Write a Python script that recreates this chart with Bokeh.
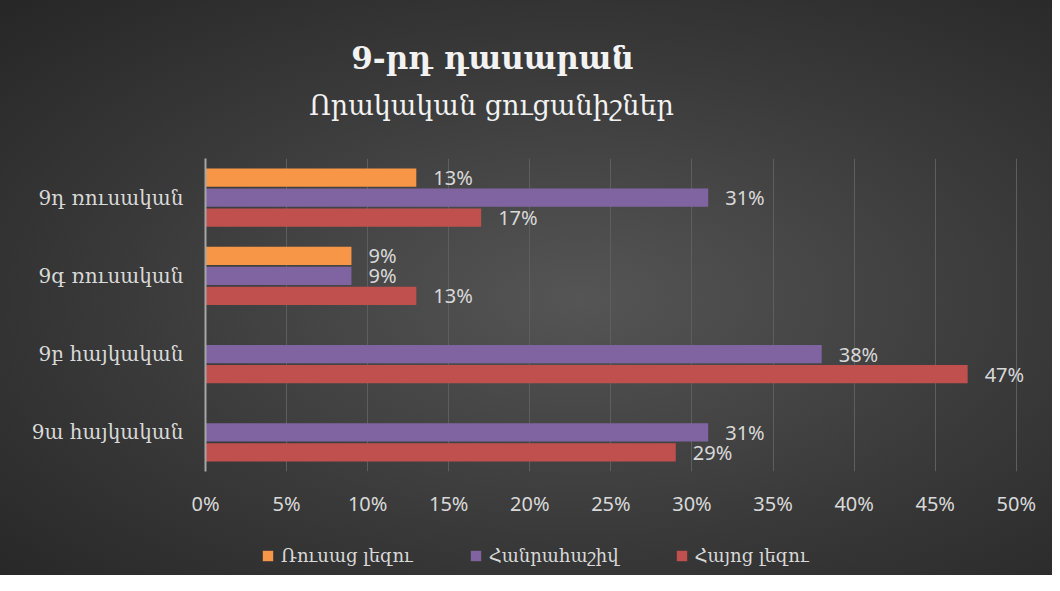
from bokeh.plotting import figure
from bokeh.layouts import column
from bokeh.models import (ColumnDataSource, FactorRange, Range1d, FixedTicker,
                          NumeralTickFormatter, Label, Legend, LegendItem, InlineStyleSheet)
from bokeh.transform import dodge
from bokeh.core.properties import value
from bokeh.embed import file_html
from bokeh.resources import INLINE

# ---- data ----
categories = ["9ա հայկական", "9բ հայկական", "9գ ռուսական", "9դ ռուսական"]
series_names = ["Ռուսաց լեզու", "Հանրահաշիվ", "Հայոց լեզու"]
rus_values = [None, None, 0.09, 0.13]
alg_values = [0.31, 0.38, 0.09, 0.31]
arm_values = [0.29, 0.47, 0.13, 0.17]
x_ticks = [0.0, 0.05, 0.10, 0.15, 0.20, 0.25, 0.30, 0.35, 0.40, 0.45, 0.50]
title_text = "9-րդ դասարան"
subtitle_text = "Որակական ցուցանիշներ"

colors = ["#f79646", "#8064a2", "#c0504d"]
offsets = [0.255, 0.0, -0.255]
bar_h = 0.232

ARM = "DejaVu Serif"
NUM = "Noto Sans"
TXT = "#d9d9d9"
W = 1052


def bare(fig):
    fig.background_fill_color = None
    fig.border_fill_color = None
    fig.outline_line_color = None
    return fig


# ---- title strip (frame aligned with main chart frame, left edge at x=205) ----
pt = bare(figure(width=W, height=158, x_range=Range1d(0, 1), y_range=Range1d(0, 1),
                 output_backend="svg", toolbar_location=None, title=None,
                 min_border_left=0, min_border_right=0, min_border_top=0, min_border_bottom=0,
                 x_axis_type=None, y_axis_type=None))
pt.grid.visible = False
pt.add_layout(Label(x=287, y=101, x_units="screen", y_units="screen", text=title_text,
                    text_align="center", text_baseline="middle", text_font=ARM,
                    text_font_size="31px", text_font_style="bold", text_color="#f2f2f2"))
pt.add_layout(Label(x=286, y=53, x_units="screen", y_units="screen", text=subtitle_text,
                    text_align="center", text_baseline="middle", text_font=ARM,
                    text_font_size="27px", text_color="#f2f2f2"))

# ---- main chart ----
p = bare(figure(width=W, height=367, title=None,
                y_range=FactorRange(factors=categories, range_padding=0),
                x_range=Range1d(0, 0.518),
                output_backend="svg", toolbar_location=None,
                min_border_left=205, min_border_right=7,
                min_border_top=0, min_border_bottom=54))

for vals, name, col, off in zip([rus_values, alg_values, arm_values], series_names, colors, offsets):
    cats = [c for c, v in zip(categories, vals) if v is not None]
    vs = [v for v in vals if v is not None]
    src = ColumnDataSource(dict(cat=cats, val=vs, lab=[f"{round(v*100)}%" for v in vs]))
    y = dodge("cat", off, range=p.y_range)
    p.hbar(y=y, right="val", left=0, height=bar_h, source=src,
           fill_color=col, line_color=None)
    p.text(x="val", y=y, text="lab", source=src, x_offset=17,
           text_baseline="middle", text_align="left",
           text_font=value(NUM), text_font_size="20px", text_color=TXT)

p.xaxis.ticker = FixedTicker(ticks=x_ticks)
p.xaxis.formatter = NumeralTickFormatter(format="0%")
p.xaxis.axis_line_color = None
p.xaxis.major_tick_line_color = None
p.xaxis.minor_tick_line_color = None
p.xaxis.major_tick_out = 0
p.xaxis.major_tick_in = 0
p.xaxis.major_label_standoff = 18
p.xaxis.major_label_text_font = NUM
p.xaxis.major_label_text_font_size = "20px"
p.xaxis.major_label_text_color = TXT

p.yaxis.axis_line_color = "#a6a6a6"
p.yaxis.axis_line_width = 2
p.yaxis.major_tick_line_color = None
p.yaxis.minor_tick_line_color = None
p.yaxis.major_tick_out = 0
p.yaxis.major_tick_in = 0
p.yaxis.major_label_standoff = 22
p.yaxis.major_label_text_font = ARM
p.yaxis.major_label_text_font_size = "20px"
p.yaxis.major_label_text_color = TXT

p.ygrid.grid_line_color = None
p.xgrid.ticker = FixedTicker(ticks=x_ticks)
p.xgrid.grid_line_color = "#5e5e5e"
p.xgrid.grid_line_width = 1

# ---- legend strip ----
pl = bare(figure(width=W, height=50, x_range=Range1d(0, 1), y_range=Range1d(0, 1),
                 output_backend="svg", toolbar_location=None, title=None,
                 min_border_left=0, min_border_right=0, min_border_top=0, min_border_bottom=0,
                 x_axis_type=None, y_axis_type=None))
pl.grid.visible = False
items = []
for name, col in zip(series_names, colors):
    # swatch-only renderer: its single bar lies outside the visible range
    r = pl.hbar(y=[-10], right=[0.5], left=0, height=0.5, fill_color=col, line_color=None)
    items.append(LegendItem(label=name, renderers=[r]))
legend = Legend(items=items, orientation="horizontal", location=(56, 9),
                background_fill_alpha=0, border_line_alpha=0,
                padding=0, margin=0,
                glyph_width=13, glyph_height=13, label_standoff=7, spacing=56,
                label_height=20,
                label_text_font=ARM, label_text_font_size="18px",
                label_text_color=TXT)
pl.add_layout(legend, "center")

layout = column(pt, p, pl, spacing=0,
                stylesheets=[InlineStyleSheet(css=":host { background: radial-gradient(ellipse farthest-corner at 55% 52%, #555555 0%, #3a3a3a 55%, #262626 100%); }")])

open("out.html", "w").write(file_html(layout, INLINE))
